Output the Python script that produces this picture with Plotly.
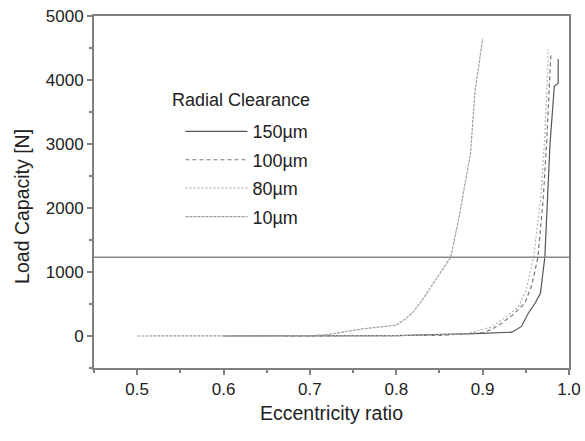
import plotly.graph_objects as go

# ---- data ----
x_150 = [0.60, 0.70, 0.80, 0.90, 0.92, 0.934, 0.945, 0.953, 0.961, 0.967, 0.972, 0.975, 0.978, 0.983, 0.9875, 0.9875]
y_150 = [0, 0, 5, 40, 55, 60, 150, 360, 520, 670, 1230, 2120, 3000, 3900, 3950, 4330]

x_100 = [0.67, 0.75, 0.85, 0.90, 0.91, 0.922, 0.935, 0.949, 0.957, 0.964, 0.970, 0.974, 0.977, 0.979]
y_100 = [0, 0, 10, 50, 100, 200, 330, 515, 800, 1230, 2120, 3000, 3800, 4400]

x_80 = [0.70, 0.80, 0.88, 0.91, 0.925, 0.941, 0.950, 0.959, 0.967, 0.971, 0.974, 0.976]
y_80 = [0, 5, 30, 140, 280, 450, 700, 1230, 2120, 2900, 3700, 4480]

x_10 = [0.50, 0.55, 0.60, 0.65, 0.70, 0.72, 0.74, 0.76, 0.78, 0.80, 0.81, 0.82, 0.83, 0.84,
        0.85, 0.86, 0.863, 0.872, 0.880, 0.886, 0.891, 0.900]
y_10 = [0, 0, 0, 0, 5, 20, 70, 110, 140, 170, 260, 380, 560, 760,
        950, 1150, 1230, 1810, 2400, 2860, 3800, 4650]

series_names = ["150\u00b5m", "100\u00b5m", "80\u00b5m", "10\u00b5m"]
legend_title = "Radial Clearance"
x_title = "Eccentricity ratio"
y_title = "Load Capacity [N]"
ref_load = 1230  # horizontal reference line

x_ticks = [0.5, 0.6, 0.7, 0.8, 0.9, 1.0]
x_tick_labels = ["0.5", "0.6", "0.7", "0.8", "0.9", "1.0"]
y_ticks = [0, 1000, 2000, 3000, 4000, 5000]

FONT = "Liberation Sans, Arial, sans-serif"

# ---- figure ----
fig = go.Figure()
styles = [
    dict(color="#555555", width=1.2, dash="solid"),
    dict(color="#777777", width=1.2, dash="4px,3px"),
    dict(color="#b5b5b5", width=1.2, dash="2px,2px"),
    dict(color="#a0a0a0", width=1.2, dash="3px,1px"),
]
for i, ((xs, ys), name, st) in enumerate(zip([(x_150, y_150), (x_100, y_100), (x_80, y_80), (x_10, y_10)],
                                             series_names, styles)):
    fig.add_trace(go.Scatter(x=xs, y=ys, mode="lines", name=name, line=st, legendgroup=f"g{i}"))

fig.add_shape(type="line", xref="paper", x0=0, x1=1, yref="y", y0=ref_load, y1=ref_load,
              line=dict(color="#8a8a8a", width=1.5))

fig.add_annotation(text=legend_title, xref="paper", yref="paper", x=0.16, y=0.762,
                   xanchor="left", yanchor="middle", showarrow=False,
                   font=dict(family=FONT, size=18, color="#222"))
fig.add_annotation(text=y_title, xref="paper", yref="paper", x=-0.152, y=0.46,
                   xanchor="center", yanchor="middle", textangle=-90, showarrow=False,
                   font=dict(family=FONT, size=19.5, color="#222"))

axis_common = dict(
    showline=True, linecolor="#808080", linewidth=2, mirror=True,
    ticks="outside", ticklen=5, tickwidth=1.5, tickcolor="#808080",
    showgrid=False, zeroline=False, automargin=False,
    tickfont=dict(family=FONT, size=17, color="#222"),
)

fig.update_xaxes(range=[0.45, 1.0], tickvals=x_ticks, ticktext=x_tick_labels,
                 title=dict(text=x_title, standoff=8,
                            font=dict(family=FONT, size=19.5, color="#222")),
                 minor=dict(ticks="outside", ticklen=3, tickwidth=1.5, tickcolor="#808080",
                            tick0=0.45, dtick=0.05),
                 **axis_common)
fig.update_yaxes(range=[-500, 5000], tickvals=y_ticks,
                 minor=dict(ticks="outside", ticklen=3, tickwidth=1.5, tickcolor="#808080",
                            tick0=-500, dtick=500),
                 **axis_common)

fig.update_layout(
    width=585, height=441,
    margin=dict(l=94, r=16, t=16, b=73),
    plot_bgcolor="white", paper_bgcolor="white",
    legend=dict(
        font=dict(family=FONT, size=18, color="#222"),
        x=0.182, y=0.724, xanchor="left", yanchor="top",
        bgcolor="rgba(0,0,0,0)", itemwidth=62, tracegroupgap=2,
    ),
)

fig.write_html("out.html", config={"displayModeBar": False},
               post_script="document.body.style.margin='0';")
